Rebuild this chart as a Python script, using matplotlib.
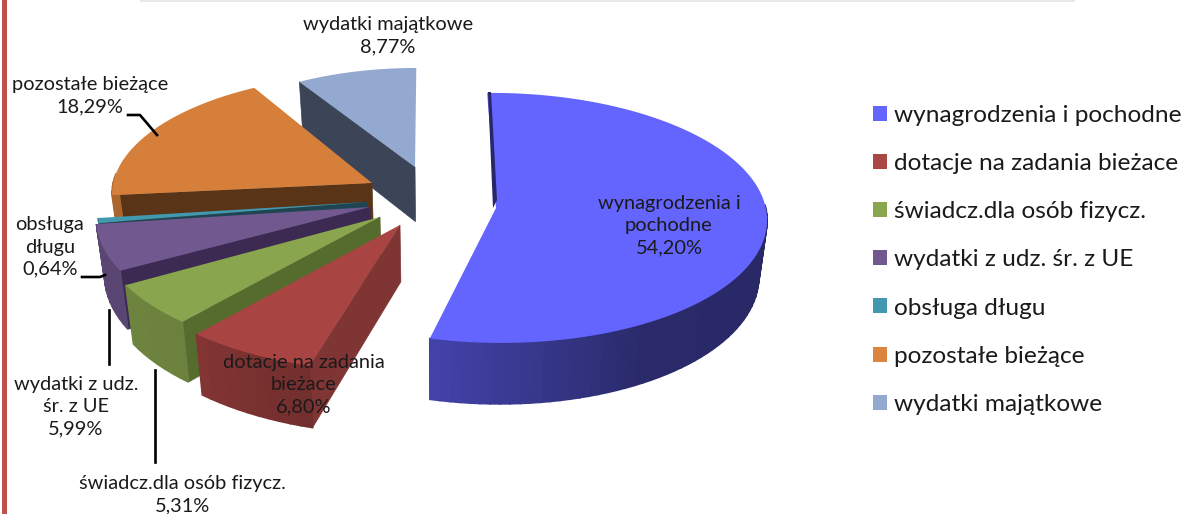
import numpy as np
import matplotlib
matplotlib.use('Agg')
import matplotlib.pyplot as plt
from matplotlib.patches import Patch

plt.rcParams['font.family'] = ['Lato', 'DejaVu Sans']

categories = ['wynagrodzenia i pochodne', 'dotacje na zadania bieżace', 'świadcz.dla osób fizycz.',
              'wydatki z udz. śr. z UE', 'obsługa długu', 'pozostałe bieżące', 'wydatki majątkowe']
values = [54.20, 6.80, 5.31, 5.99, 0.64, 18.29, 8.77]
value_labels = ['54,20%', '6,80%', '5,31%', '5,99%', '0,64%', '18,29%', '8,77%']

colors = ['#6464ff', '#a84442', '#89a54e', '#71588f', '#4198af', '#d67f3a', '#93a9cf']
cut_colors = ['#27276a', '#7e3533', '#566b2e', '#3c2a52', '#1f4552', '#5a3416', '#3c4557']

# wierzcholki wycinkow na obrazku, skala promienia i obrot
apex = [(496, 208), (400, 225), (380, 217), (370, 207), (367, 202), (372, 183), (415, 167)]
scale = [0.99, 1.05, 1.02, 1.0, 0.985, 0.965, 0.89]
turn = [-1, 1, 1, 2, 0, 1.5, 0]

# parametry rzutu
CX, CY = 435, 205
A, B = 272, 125
P = 0.08
H = 56
BOTTOM_X = 0.975


def project(X, Y):
    s = 1 / (1 - P * Y)
    return CX + A * X * s, CY + B * Y * s, H * s


def unproject(x, y):
    u = (y - CY) / B
    Y = u / (1 + P * u)
    s = 1 / (1 - P * Y)
    return (x - CX) / (A * s), Y


def low(x):
    # dolna krawedz jest troche blizej srodka
    return CX + (x - CX) * BOTTOM_X


def shade(c, f):
    rgb = np.array(matplotlib.colors.to_rgb(c))
    return tuple(rgb * f)


fig = plt.figure(figsize=(11.86, 5.14), dpi=100)
ax = fig.add_axes([0, 0, 1, 1])
ax.set_xlim(0, 1186)
ax.set_ylim(514, 0)
ax.axis('off')

# ramka: czerwony pasek z lewej i cien u gory
ax.fill_between([2, 7], 0, 514, color='#c0504d', lw=0)
ax.fill_between([140, 1075], 0, 2, color='#e8e8e8', lw=0)

edges = np.cumsum([0] + values) / sum(values) * 360

for i in [6, 5, 4, 3, 2, 1, 0]:
    t0, t1 = edges[i] + turn[i], edges[i + 1] + turn[i]
    ax0, ay0 = unproject(*apex[i])
    th = np.radians(np.linspace(t0, t1, max(int(t1 - t0) // 2, 4)))
    X = ax0 + scale[i] * np.sin(th)
    Y = ay0 - scale[i] * np.cos(th)
    x, y, h = project(X, Y)
    x0, y0, h0 = project(ax0, ay0)

    # sciana ciecia
    if i != 0:
        ax.fill([x[0], x0, low(x0), low(x[0])], [y[0], y0, y0 + h0, y[0] + h[0]],
                color=cut_colors[i], lw=0.5, zorder=i * -3 + 30)
    # sciana zewnetrzna
    f = np.interp(np.degrees(th), [90, 150, 195, 220, 240, 270], [0.4, 0.42, 0.68, 0.78, 0.8, 0.8])
    for k in range(len(th) - 1):
        if np.cos(th[k]) < 0.05:
            ax.fill([x[k], x[k + 1], low(x[k + 1]), low(x[k])],
                    [y[k], y[k + 1], y[k + 1] + h[k + 1], y[k] + h[k]],
                    color=shade(colors[i], f[k]), lw=1.2, zorder=i * -3 + 31)
    # gora
    ax.fill(np.r_[x0, x], np.r_[y0, y], color=colors[i], lw=0, zorder=i * -3 + 32)

# waski pasek wewnetrznej sciany niebieskiego wycinka
xc, yc = 489, 92
ax.fill([xc - 1, xc + 2, apex[0][0] + 1, apex[0][0] - 3], [yc, yc, apex[0][1] - 8, apex[0][1]],
        color=cut_colors[0], lw=0, zorder=40)

# linie odniesienia
leader_x = [[128, 140, 157], [82, 100, 105], [109, 109], [155, 155]]
leader_y = [[115, 115, 135], [277, 277, 275], [310, 364], [370, 462]]
for lx, ly in zip(leader_x, leader_y):
    ax.plot(lx, ly, color='black', lw=1.9, zorder=50)

# etykiety
label_text = ['wynagrodzenia i\npochodne', 'dotacje na zadania\nbieżace', 'świadcz.dla osób fizycz.',
              'wydatki z udz.\nśr. z UE', 'obsługa\ndługu', 'pozostałe bieżące', 'wydatki majątkowe']
label_pos = [(669, 226), (304, 385), (182, 495), (76, 407), (50, 247), (90, 96), (388, 36)]
for txt, val, pos in zip(label_text, value_labels, label_pos):
    ax.text(pos[0], pos[1], txt + '\n' + val, ha='center', va='center', fontsize=14.4,
            linespacing=1.36, color='#1a1a1a', zorder=60)

handles = [Patch(facecolor=c, edgecolor='none') for c in
           ['#6464ff', '#aa4644', '#89a54e', '#71588f', '#4198af', '#db843d', '#93a9cf']]
leg = ax.legend(handles, categories, loc='upper left', bbox_to_anchor=(873 / 1186, 1 - 105 / 514),
                frameon=False, fontsize=17.6, handlelength=0.57, handleheight=0.57,
                handletextpad=0.3, labelspacing=1.11, borderpad=0, borderaxespad=0)
for t in leg.get_texts():
    t.set_color('#1a1a1a')

fig.savefig('out.png', dpi=100)
